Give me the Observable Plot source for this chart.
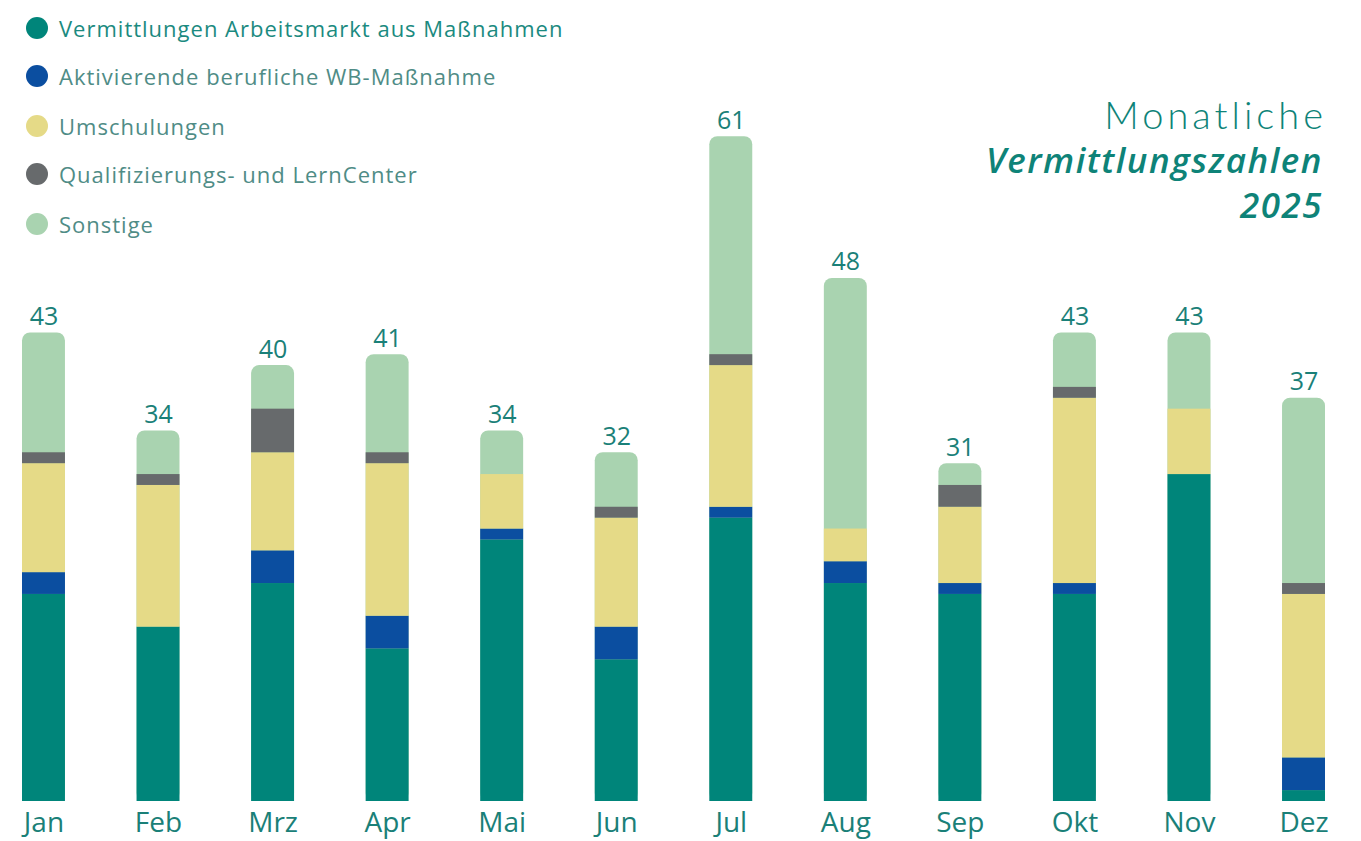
<!DOCTYPE html>
<html>
<head>
<meta charset="utf-8">
<script src="https://cdn.jsdelivr.net/npm/d3@7"></script>
<script src="https://cdn.jsdelivr.net/npm/@observablehq/plot@0.6"></script>
<style>
  html, body { margin: 0; padding: 0; background: #ffffff; }
  #wrap { position: relative; width: 1361px; height: 841px; overflow: hidden; font-family: "Open Sans", "DejaVu Sans", sans-serif; }
  #chart { position: absolute; left: 0; top: 0; }
  #legend { position: absolute; left: 26px; top: 0; }
  .row { position: absolute; left: 0; height: 26px; display: flex; align-items: center; white-space: nowrap; }
  .sw { width: 22px; height: 22px; border-radius: 50%; margin-right: 11px; flex: none; }
  .lab { font-size: 22px; color: #4f8c86; letter-spacing: 1px; }
  .row:first-child .lab { color: #1b8a80; }
  #title { position: absolute; right: 38px; top: 92px; text-align: right; color: #0e8378; font-family: "Lato", "Open Sans", sans-serif; }
  #title .l1 { font-size: 38px; font-weight: 300; line-height: 45px; letter-spacing: 4px; margin-right: -4px; }
  #title .l2 { font-family: "Open Sans", sans-serif; font-size: 35px; font-weight: 600; font-style: italic; line-height: 45px; letter-spacing: 1.5px; }
</style>
</head>
<body>
<div id="wrap">
  <div id="chart"></div>
  <div id="legend"></div>
  <div id="title"><div class="l1">Monatliche</div><div class="l2">Vermittlungszahlen</div><div class="l2">2025</div></div>
</div>
<script>
// ---- data ----
const months = ["Jan", "Feb", "Mrz", "Apr", "Mai", "Jun", "Jul", "Aug", "Sep", "Okt", "Nov", "Dez"];
const seriesNames = [
  "Vermittlungen Arbeitsmarkt aus Maßnahmen",
  "Aktivierende berufliche WB-Maßnahme",
  "Umschulungen",
  "Qualifizierungs- und LernCenter",
  "Sonstige"
];
const seriesColors = ["#00857a", "#0b4ea0", "#e5da87", "#676a6c", "#a9d3b0"];
const vermittlungen = [19, 16, 20, 14, 24, 13, 26, 20, 19, 19, 30, 1];
const aktivierende  = [2, 0, 3, 3, 1, 3, 1, 2, 1, 1, 0, 3];
const umschulungen  = [10, 13, 9, 14, 5, 10, 13, 3, 7, 17, 6, 15];
const qualifizierung = [1, 1, 4, 1, 0, 1, 1, 0, 2, 1, 0, 1];
const sonstige      = [11, 4, 4, 9, 4, 5, 20, 23, 2, 5, 7, 17];

const seriesValues = [vermittlungen, aktivierende, umschulungen, qualifizierung, sonstige];

// long table for the lower stacked segments (top segment "Sonstige" drawn as rounded full bar behind)
const rows = [];
for (let s = 0; s < 4; s++) {
  months.forEach((m, i) => rows.push({ month: m, series: seriesNames[s], value: seriesValues[s][i] }));
}
const totals = months.map((m, i) => ({
  month: m,
  total: seriesValues.reduce((acc, arr) => acc + arr[i], 0)
}));

const teal = "#1a8078";

const chart = Plot.plot({
  width: 1361,
  height: 841,
  marginLeft: 22,
  marginRight: 36,
  marginTop: 0,
  marginBottom: 40,
  style: { background: "transparent", fontFamily: "'Open Sans', sans-serif", overflow: "visible" },
  x: { domain: months, paddingInner: 0.625, paddingOuter: 0, round: false, label: null },
  y: { domain: [0, 73.5], axis: null },
  color: { domain: seriesNames, range: seriesColors },
  marks: [
    Plot.barY(totals, { x: "month", y: "total", fill: seriesColors[4], rx: 8, ry: 8 }),
    Plot.barY(rows.filter(d => d.value > 0), { x: "month", y: "value", fill: "series" }),
    Plot.text(totals, { x: "month", y: "total", text: d => String(d.total), dy: -8, lineAnchor: "bottom", fill: teal, fontSize: 25 }),
    Plot.axisX({ tickSize: 0, tickPadding: 11, fontSize: 28, fill: teal, color: teal, label: null })
  ]
});
document.getElementById("chart").appendChild(chart);

// legend (HTML)
const legend = document.getElementById("legend");
const rowCenters = [28, 76, 126, 174, 224];
seriesNames.forEach((name, i) => {
  const r = document.createElement("div");
  r.className = "row";
  r.style.top = (rowCenters[i] - 13) + "px";
  const sw = document.createElement("div");
  sw.className = "sw";
  sw.style.background = seriesColors[i];
  const lab = document.createElement("span");
  lab.className = "lab";
  lab.textContent = name;
  r.appendChild(sw);
  r.appendChild(lab);
  legend.appendChild(r);
});
</script>
</body>
</html>
